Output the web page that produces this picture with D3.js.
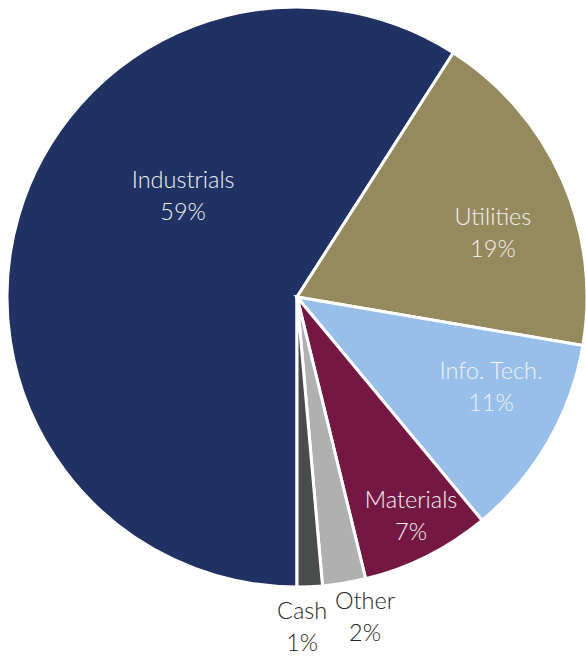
<!DOCTYPE html>
<html>
<head>
<meta charset="utf-8">
<script src="https://cdn.jsdelivr.net/npm/d3@7"></script>
<style>
  html, body { margin: 0; padding: 0; background: #ffffff; }
  svg { display: block; }
</style>
</head>
<body>
<svg id="chart" width="586" height="656"></svg>
<script>
// ---- data ----
const categories = ["Industrials", "Utilities", "Info. Tech.", "Materials", "Other", "Cash"];
const values = [59.0, 18.6, 11.3, 7.2, 2.4, 1.4];
const colors = ["#203264", "#948a5e", "#98bfea", "#741843", "#b0b0b0", "#4a4c4c"];

// ---- layout ----
const W = 586, H = 656;
const cx = 297, cy = 297, R = 290;
// label placement: radius and angle (degrees, clockwise from 12 o'clock)
const labelPlacement = {
  "Industrials": { r: 152, a: 311.5, color: "#f2f2f2" },
  "Utilities":   { r: 206, a: 72,    color: "#f2f2f2" },
  "Info. Tech.": { r: 214, a: 115,   color: "#f2f2f2" },
  "Materials":   { r: 247, a: 152.5, color: "#f2f2f2" },
  "Other":       { r: 327, a: 168,   color: "#262626" },
  "Cash":        { r: 330, a: 179.1, color: "#262626" }
};

const data = categories.map((c, i) => ({ category: c, value: values[i], color: colors[i] }));
const total = d3.sum(values);

const svg = d3.select("#chart");
const g = svg.append("g").attr("transform", `translate(${cx},${cy})`);

const pie = d3.pie()
  .sort(null)
  .value(d => d.value)
  .startAngle(Math.PI)
  .endAngle(3 * Math.PI);

const arc = d3.arc().innerRadius(0).outerRadius(R);

const arcs = pie(data);

g.selectAll("path.slice")
  .data(arcs)
  .join("path")
  .attr("class", "slice")
  .attr("d", arc)
  .attr("fill", d => d.data.color)
  .attr("stroke", "#ffffff")
  .attr("stroke-width", 3)
  .attr("stroke-linejoin", "miter");

const fontSize = 23.5;
const lineGap = 32;
const baseShift = 8;

const labels = g.selectAll("g.label")
  .data(arcs)
  .join("g")
  .attr("class", "label")
  .attr("transform", d => {
    const p = labelPlacement[d.data.category];
    const a = p.a * Math.PI / 180;
    return `translate(${p.r * Math.sin(a)},${-p.r * Math.cos(a)})`;
  });

labels.append("text")
  .attr("text-anchor", "middle")
  .attr("y", -lineGap / 2 + baseShift)
  .attr("font-family", "Lato, 'Open Sans', sans-serif")
  .attr("font-weight", 300)
  .attr("font-size", fontSize)
  .attr("fill", d => labelPlacement[d.data.category].color)
  .text(d => d.data.category);

labels.append("text")
  .attr("text-anchor", "middle")
  .attr("y", lineGap / 2 + baseShift)
  .attr("font-family", "Lato, 'Open Sans', sans-serif")
  .attr("font-weight", 300)
  .attr("font-size", fontSize)
  .attr("fill", d => labelPlacement[d.data.category].color)
  .text(d => Math.round(d.data.value / total * 100) + "%");
</script>
</body>
</html>
